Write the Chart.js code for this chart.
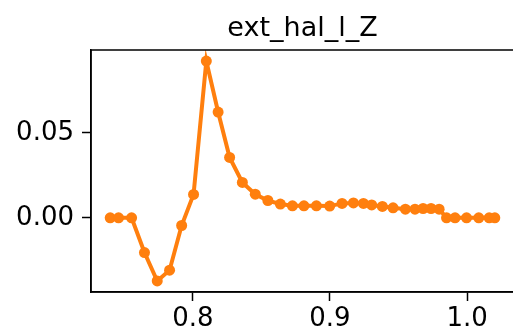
<!DOCTYPE html>
<html>
<head>
<meta charset="utf-8">
<script src="https://cdn.jsdelivr.net/npm/chart.js@4/dist/chart.umd.min.js"></script>
<style>
html,body{margin:0;padding:0;background:#fff;overflow:hidden;}
canvas{display:block;}
</style>
</head>
<body>
<canvas id="c" width="520" height="333"></canvas>
<script>
const titleText = "ext_hal_l_Z";
const xValues = [0.7397,0.7458,0.7553,0.7647,0.7740,0.7830,0.7918,0.8005,0.8098,0.8184,0.8268,0.8361,0.8455,0.8547,0.8638,0.8726,0.8810,0.8901,0.8998,0.9088,0.9171,0.9244,0.9304,0.9382,0.9460,0.9550,0.9620,0.9679,0.9737,0.9796,0.9850,0.9912,0.9996,1.0085,1.0161,1.0202];
const yValues = [0.0000,0.0000,0.0000,-0.0204,-0.0371,-0.0308,-0.0045,0.0138,0.0922,0.0622,0.0355,0.0208,0.0139,0.0102,0.0081,0.0071,0.0071,0.0071,0.0069,0.0085,0.0088,0.0085,0.0076,0.0067,0.0059,0.0051,0.0051,0.0055,0.0055,0.0051,0.0000,0.0000,0.0000,0.0000,0.0000,0.0000];
const xTicks = [0.8,0.9,1.0];
const xTickLabels = ["0.8","0.9","1.0"];
const yTicks = [0.0,0.05];
const yTickLabels = ["0.00","0.05"];

const points = xValues.map((x,i)=>({x:x,y:yValues[i]}));

const frame = {
  id:'frame',
  afterLayout(chart){
    const a = chart.chartArea;
    if (chart.titleBlock) { chart.titleBlock.left = a.left; chart.titleBlock.right = a.right; }
  },
  afterDraw(chart){
    const a = chart.chartArea, ctx = chart.ctx;
    ctx.save();
    ctx.strokeStyle = '#000';
    ctx.lineWidth = 1.5;
    ctx.strokeRect(a.left, a.top, a.right-a.left, a.bottom-a.top);
    ctx.restore();
  }
};

new Chart(document.getElementById('c'), {
  type:'line',
  data:{datasets:[{
    data:points,
    borderColor:'#ff7f0e',
    backgroundColor:'#ff7f0e',
    borderWidth:4,
    pointRadius:5.5,
    pointBorderWidth:0,
    pointBackgroundColor:'#ff7f0e',
    tension:0,
    fill:false
  }]},
  options:{
    responsive:false,
    animation:false,
    devicePixelRatio:1,
    layout:{padding:{left:0,right:6,top:0,bottom:0}},
    plugins:{
      legend:{display:false},
      tooltip:{enabled:false},
      title:{display:true,text:titleText,color:'#000',
        font:{family:'DejaVu Sans',size:27,weight:'normal',lineHeight:1.2},
        padding:{top:13,bottom:4.6}}
    },
    scales:{
      x:{type:'linear',min:0.7257,max:1.0342,
        afterBuildTicks(s){s.ticks = xTicks.map(v=>({value:v}));},
        afterFit(s){s.height = 41;},
        ticks:{color:'#000',font:{family:'DejaVu Sans',size:26},padding:3,maxRotation:0,
          callback:(v)=>{const i=xTicks.findIndex(t=>Math.abs(t-v)<1e-9);return i>=0?xTickLabels[i]:'';}},
        grid:{display:true,drawOnChartArea:false,drawTicks:true,tickLength:9,color:'#000',tickWidth:1.5},
        border:{display:true,color:'#000',width:1.5}
      },
      y:{type:'linear',min:-0.0436,max:0.0987,
        afterBuildTicks(s){s.ticks = yTicks.map(v=>({value:v}));},
        afterFit(s){s.width = 91;},
        ticks:{color:'#000',font:{family:'DejaVu Sans',size:26},padding:8,
          callback:(v)=>{const i=yTicks.findIndex(t=>Math.abs(t-v)<1e-9);return i>=0?yTickLabels[i]:'';}},
        grid:{display:true,drawOnChartArea:false,drawTicks:true,tickLength:9,color:'#000',tickWidth:1.5},
        border:{display:true,color:'#000',width:1.5}
      }
    }
  },
  plugins:[frame]
});
</script>
</body>
</html>
